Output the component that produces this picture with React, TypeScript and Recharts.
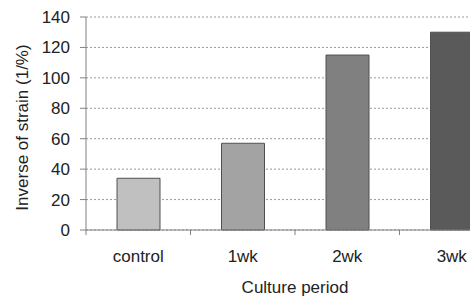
import React from "react";
import { BarChart, Bar, XAxis, YAxis, CartesianGrid, Cell } from "recharts";

const categories = ["control", "1wk", "2wk", "3wk"];
const strainInverse = [34, 57, 115, 130];
const yTicks = [0, 20, 40, 60, 80, 100, 120, 140];

const barColors = ["#c0c0c0", "#a3a3a3", "#808080", "#5a5a5a"];
const FONT = "'Liberation Sans', Arial, sans-serif";
const AXIS = "#808080";

const data = categories.map((name, i) => ({ name, value: strainInverse[i] }));

// tick marks sit on the category boundaries, labels in the middle
// eslint-disable-next-line @typescript-eslint/no-explicit-any
const CategoryTick = (props: any) => {
  const { x, y, payload } = props;
  const half = payload?.offset ?? 0;
  return (
    <g>
      <line x1={x - half} x2={x - half} y1={y} y2={y + 5} stroke={AXIS} />
      <text x={x} y={y + 32} textAnchor="middle" fontSize={17} fontFamily={FONT} fill="#222">
        {payload.value}
      </text>
    </g>
  );
};

// eslint-disable-next-line @typescript-eslint/no-explicit-any
const YTitle = (props: any) => {
  const { viewBox } = props;
  const cx = 22;
  const cy = viewBox.y + viewBox.height / 2 + 4;
  return (
    <text
      x={cx}
      y={cy}
      transform={`rotate(-90 ${cx} ${cy})`}
      textAnchor="middle"
      dominantBaseline="central"
      fontSize={17}
      fontFamily={FONT}
      fill="#222"
    >
      Inverse of strain (1/%)
    </text>
  );
};

export default function App() {
  return (
    <div style={{ position: "absolute", left: 0, top: 0, width: 470, height: 298, overflow: "hidden", background: "#fff" }}>
      <BarChart width={504} height={298} data={data} margin={{ top: 17, right: 0, bottom: 0, left: 0 }}>
        <CartesianGrid vertical={false} stroke="#999" strokeDasharray="2 2" />
        <XAxis
          dataKey="name"
          height={68}
          axisLine={{ stroke: AXIS }}
          tickLine={false}
          tickSize={0}
          tickMargin={0}
          tick={<CategoryTick />}
          interval={0}
          label={{ value: "Culture period", position: "insideBottom", offset: 5, fontSize: 17, fontFamily: FONT, fill: "#222" }}
        />
        <YAxis
          domain={[0, 140]}
          ticks={yTicks}
          width={86}
          axisLine={{ stroke: AXIS }}
          tickLine={{ stroke: AXIS }}
          tickSize={6}
          tickMargin={10}
          tick={{ fontSize: 17, fontFamily: FONT, fill: "#222" }}
          label={<YTitle />}
        />
        <Bar dataKey="value" barSize={43} stroke="#505050" strokeWidth={1} isAnimationActive={false}>
          {data.map((d, i) => (
            <Cell key={d.name} fill={barColors[i]} />
          ))}
        </Bar>
      </BarChart>
    </div>
  );
}
